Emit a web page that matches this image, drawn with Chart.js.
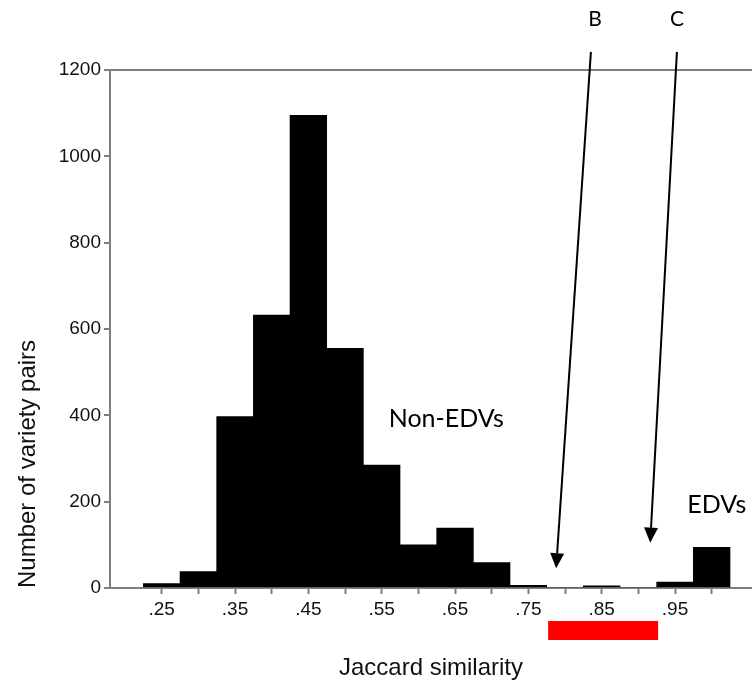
<!DOCTYPE html>
<html>
<head>
<meta charset="utf-8">
<script src="https://cdn.jsdelivr.net/npm/chart.js@4/dist/chart.umd.min.js"></script>
<style>html,body{margin:0;padding:0;background:#fff;}canvas{display:block;}</style>
</head>
<body>
<canvas id="c" width="752" height="680"></canvas>
<script>
// ---- data ----
const binCenters = [0.25, 0.30, 0.35, 0.40, 0.45, 0.50, 0.55, 0.60, 0.65, 0.70, 0.75, 0.80, 0.85, 0.90, 0.95, 1.00];
const pairCounts = [10, 38, 397, 632, 1095, 555, 285, 100, 139, 59, 6, 0, 5, 0, 14, 94];
const xTickValues = [0.25, 0.30, 0.35, 0.40, 0.45, 0.50, 0.55, 0.60, 0.65, 0.70, 0.75, 0.80, 0.85, 0.90, 0.95, 1.00];
const xTickLabels = ['.25', '', '.35', '', '.45', '', '.55', '', '.65', '', '.75', '', '.85', '', '.95', ''];
const yTickValues = [0, 200, 400, 600, 800, 1000, 1200];
const yTickLabels = ['0', '200', '400', '600', '800', '1000', '1200'];
const xTitle = 'Jaccard similarity';
const yTitle = 'Number of variety pairs';
const groupLabelTexts = ['Non-EDVs', 'EDVs'];
const groupLabelX = [0.638, 1.007];
const groupLabelY = [374, 173];
const arrowNames = ['B', 'C'];
const arrowFromX = [0.8353, 0.9526];
const arrowFromY = [1242, 1242];
const arrowToX = [0.7879, 0.9162];
const arrowToY = [46, 105];
const arrowLabelX = [0.841, 0.9526];
const arrowLabelY = [1302, 1302];
const thresholdRange = [0.777, 0.927];

const AXIS_GRAY = '#7f7f7f';
const TEXT_COL = '#111111';
const sansAxis = "'Liberation Sans', Arial, sans-serif";
const sansNote = "Lato, 'Open Sans', sans-serif";

const annotations = {
  id: 'annotations',
  afterDraw(chart) {
    const {ctx, chartArea, scales: {x, y}} = chart;
    ctx.save();
    // red threshold bar below the axis
    const rx0 = x.getPixelForValue(thresholdRange[0]);
    const rx1 = x.getPixelForValue(thresholdRange[1]);
    ctx.fillStyle = '#ff0000';
    ctx.fillRect(rx0, chartArea.bottom + 33, rx1 - rx0, 19);

    // arrows
    ctx.strokeStyle = '#000';
    ctx.fillStyle = '#000';
    ctx.lineWidth = 2;
    for (let i = 0; i < arrowNames.length; i++) {
      const x0 = x.getPixelForValue(arrowFromX[i]);
      const y0 = y.getPixelForValue(arrowFromY[i]);
      const x1 = x.getPixelForValue(arrowToX[i]);
      const y1 = y.getPixelForValue(arrowToY[i]);
      const ang = Math.atan2(y1 - y0, x1 - x0);
      const headLen = 15, headHalf = 7;
      const bx = x1 - headLen * Math.cos(ang);
      const by = y1 - headLen * Math.sin(ang);
      ctx.beginPath();
      ctx.moveTo(x0, y0);
      ctx.lineTo(bx, by);
      ctx.stroke();
      ctx.beginPath();
      ctx.moveTo(x1, y1);
      ctx.lineTo(bx + headHalf * Math.sin(ang), by - headHalf * Math.cos(ang));
      ctx.lineTo(bx - headHalf * Math.sin(ang), by + headHalf * Math.cos(ang));
      ctx.closePath();
      ctx.fill();
      ctx.font = "21px " + sansNote;
      ctx.textAlign = 'center';
      ctx.textBaseline = 'alphabetic';
      ctx.fillText(arrowNames[i], x.getPixelForValue(arrowLabelX[i]), y.getPixelForValue(arrowLabelY[i]));
    }
    // group labels
    ctx.font = "25px " + sansNote;
    ctx.textAlign = 'center';
    ctx.textBaseline = 'alphabetic';
    for (let i = 0; i < groupLabelTexts.length; i++) {
      ctx.fillText(groupLabelTexts[i], x.getPixelForValue(groupLabelX[i]), y.getPixelForValue(groupLabelY[i]));
    }
    ctx.restore();
  }
};

new Chart(document.getElementById('c'), {
  type: 'bar',
  data: {
    datasets: [{
      data: binCenters.map((b, i) => ({x: b, y: pairCounts[i]})),
      backgroundColor: '#000',
      borderWidth: 0,
      barPercentage: 1.0,
      categoryPercentage: 1.0
    }]
  },
  options: {
    responsive: false,
    animation: false,
    devicePixelRatio: 1,
    layout: {padding: {left: 0, right: 0, top: 70, bottom: 0}},
    plugins: {legend: {display: false}, tooltip: {enabled: false}},
    scales: {
      x: {
        type: 'linear',
        offset: false,
        min: 0.1795,
        max: 1.055,
        afterBuildTicks: (axis) => { axis.ticks = xTickValues.map(v => ({value: v})); },
        afterFit: (axis) => { axis.height = 92; },
        grid: {offset: false, drawOnChartArea: false, drawTicks: true, tickLength: 6, tickColor: AXIS_GRAY, tickWidth: 2},
        border: {display: true, color: AXIS_GRAY, width: 2},
        ticks: {
          autoSkip: false, maxRotation: 0, padding: 4, color: TEXT_COL,
          font: {family: sansAxis, size: 19},
          callback: (v, i) => xTickLabels[i]
        },
        title: {display: true, text: xTitle, color: TEXT_COL, font: {family: sansAxis, size: 24}, padding: {top: 0, bottom: -3}}
      },
      y: {
        min: 0,
        max: 1200,
        afterBuildTicks: (axis) => { axis.ticks = yTickValues.map(v => ({value: v})); },
        afterFit: (axis) => { axis.width = 110; },
        grid: {
          drawOnChartArea: true, drawTicks: true, tickLength: 6, tickColor: AXIS_GRAY, tickWidth: 2,
          lineWidth: 2,
          color: (c) => (c.tick && c.tick.value === 1200) ? AXIS_GRAY : 'rgba(0,0,0,0)'
        },
        border: {display: true, color: AXIS_GRAY, width: 2},
        ticks: {
          padding: 3, color: TEXT_COL, font: {family: sansAxis, size: 19},
          callback: (v, i) => yTickLabels[i]
        },
        title: {display: true, text: yTitle, align: 'start', color: TEXT_COL, font: {family: sansAxis, size: 24}, padding: {top: 14, bottom: 0}}
      }
    }
  },
  plugins: [annotations]
});
</script>
</body>
</html>
